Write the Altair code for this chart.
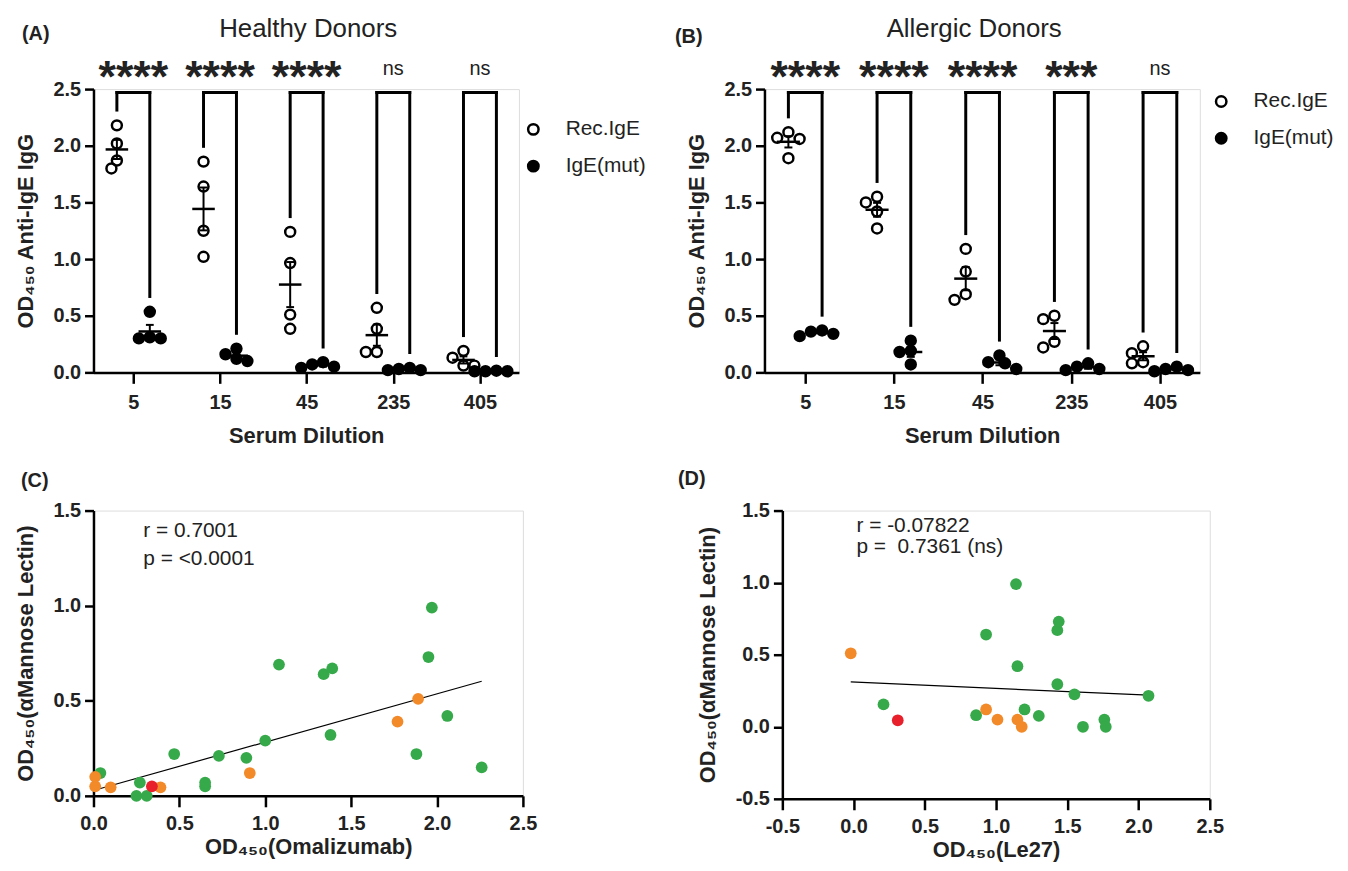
import json
import altair as alt
import pandas as pd

# ---------------- data ----------------
dilutions = ["5", "15", "45", "235", "405"]
series_names = ["Rec.IgE", "IgE(mut)"]

healthy_rec = [[2.18, 2.02, 1.87, 1.80], [1.86, 1.64, 1.25, 1.02], [1.24, 0.965, 0.51, 0.385],
               [0.57, 0.385, 0.18, 0.18], [0.19, 0.13, 0.06, 0.06]]
healthy_mut = [[0.535, 0.31, 0.30, 0.30], [0.21, 0.16, 0.12, 0.10], [0.09, 0.07, 0.05, 0.04],
               [0.04, 0.03, 0.02, 0.02], [0.015, 0.01, 0.01, 0.01]]
healthy_sig = ["****", "****", "****", "ns", "ns"]

allergic_rec = [[2.12, 2.07, 2.06, 1.89], [1.55, 1.50, 1.42, 1.27], [1.09, 0.89, 0.69, 0.64],
                [0.50, 0.47, 0.27, 0.22], [0.23, 0.17, 0.09, 0.08]]
allergic_mut = [[0.37, 0.36, 0.34, 0.32], [0.28, 0.19, 0.18, 0.07], [0.15, 0.09, 0.08, 0.03],
                [0.08, 0.05, 0.03, 0.02], [0.05, 0.03, 0.02, 0.01]]
allergic_sig = ["****", "****", "****", "***", "ns"]

groups = ["Group 1", "Group 2", "Group 3"]
group_colors = ["#36a94a", "#f28a2a", "#e8202b"]

c_green_x = [0.04, 0.25, 0.27, 0.31, 0.47, 0.65, 0.65, 0.73, 0.89, 1.00, 1.08, 1.34, 1.39, 1.38, 1.88, 1.95, 1.97, 2.06, 2.26]
c_green_y = [0.12, 0.00, 0.07, 0.00, 0.22, 0.05, 0.07, 0.21, 0.20, 0.29, 0.69, 0.64, 0.67, 0.32, 0.22, 0.73, 0.99, 0.42, 0.15]
c_orange_x = [0.01, 0.01, 0.10, 0.39, 0.91, 1.77, 1.89]
c_orange_y = [0.10, 0.05, 0.045, 0.045, 0.12, 0.39, 0.51]
c_red_x = [0.34]
c_red_y = [0.05]

d_green_x = [0.21, 0.86, 0.93, 1.14, 1.15, 1.20, 1.30, 1.43, 1.44, 1.43, 1.55, 1.61, 1.76, 1.77, 2.07]
d_green_y = [0.155, 0.08, 0.64, 0.99, 0.42, 0.12, 0.075, 0.67, 0.73, 0.295, 0.225, 0.00, 0.05, 0.00, 0.215]
d_orange_x = [-0.02, 0.93, 1.01, 1.15, 1.18]
d_orange_y = [0.51, 0.12, 0.05, 0.05, 0.00]
d_red_x = [0.31]
d_red_y = [0.045]

c_stats = ["r = 0.7001", "p = <0.0001"]
d_stats = ["r = -0.07822", "p =\u00a0 0.7361 (ns)"]

FONT = "Liberation Sans"
INK = "#222222"

# ---------------- helpers ----------------
TOP_W, TOP_H = 428, 285
X_DOM = [-0.46, 4.45]
Y_DOM = [0, 2.5]
PPX = TOP_W / (X_DOM[1] - X_DOM[0])
PPY = TOP_H / (Y_DOM[1] - Y_DOM[0])
GROUP_SHIFT = 0.19


def swarm(values, d=11.0):
    """simple beeswarm: horizontal offsets (x units) so that markers do not overlap"""
    order = sorted(range(len(values)), key=lambda k: -values[k])
    placed = []
    offs = [0.0] * len(values)
    cands = [0, -0.5, 0.5, -1, 1, -1.5, 1.5, -2, 2]
    for k in order:
        yp = values[k] * PPY
        for c in cands:
            xp = c * d
            if all(((xp - px) ** 2 + (yp - py) ** 2) ** 0.5 >= 0.85 * d for px, py in placed):
                break
        placed.append((xp, yp))
        offs[k] = xp / PPX
    return offs


def axis(title, orient, values=None, label_expr=None, fmt=None, title_pad=14, label_pad=None):
    kw = dict(title=title, grid=False, domainColor="black", domainWidth=2.5,
              tickColor="black", tickWidth=2.5,
              labelFont=FONT, labelFontWeight="bold", labelFontSize=20, labelColor=INK,
              labelFlush=False, labelOverlap=False,
              titleFont=FONT, titleFontWeight="bold", titleFontSize=22, titleColor=INK,
              titlePadding=title_pad)
    if orient == "x":
        kw.update(tickSize=11, labelPadding=9 if label_pad is None else label_pad)
    else:
        kw.update(tickSize=9, labelPadding=4)
    if values is not None:
        kw["values"] = values
    if label_expr is not None:
        kw["labelExpr"] = label_expr
    if fmt is not None:
        kw["format"] = fmt
    return alt.Axis(**kw)


def note(txt, dx, dy, size=20, weight="bold", align="left"):
    return alt.Chart(pd.DataFrame({"t": [txt]})).mark_text(
        font=FONT, fontWeight=weight, fontSize=size, color=INK, align=align, baseline="middle"
    ).encode(text="t:N", x=alt.value(dx), y=alt.value(dy))


def dilution_panel(rec, mut, sig, title, title_dx, letter_txt, letter_pos, legend_pos, width):
    rows = []
    for i in range(len(dilutions)):
        for s, vals in ((series_names[0], rec[i]), (series_names[1], mut[i])):
            xc = i - GROUP_SHIFT if s == series_names[0] else i + GROUP_SHIFT
            for v, o in zip(vals, swarm(vals)):
                rows.append({"idx": i, "series": s, "value": v, "xc": xc, "xj": xc + o})
    df = pd.DataFrame(rows)

    xax = axis("Serum Dilution", "x", values=list(range(len(dilutions))),
               label_expr=json.dumps(dilutions) + "[datum.value]", title_pad=14)
    yax = axis("OD\u2084\u2085\u2080 Anti-IgE IgG", "y", values=[0, 0.5, 1.0, 1.5, 2.0, 2.5], fmt=".1f",
               title_pad=16)
    xs = alt.Scale(domain=X_DOM, nice=False, zero=False)
    ys = alt.Scale(domain=Y_DOM, nice=False)

    def X(f):
        return alt.X(f, type="quantitative", scale=xs, axis=xax)

    def Y(f):
        return alt.Y(f, type="quantitative", scale=ys, axis=yax)

    base = alt.Chart(df)
    pts = base.mark_point(shape="circle", size=100, strokeWidth=2.5, stroke="black", opacity=1).encode(
        x=X("xj"), y=Y("value"),
        fill=alt.Fill("series:N", scale=alt.Scale(domain=series_names, range=["transparent", "black"]),
                      legend=alt.Legend(orient="none", legendX=legend_pos[0], legendY=legend_pos[1],
                                        title=None, labelFont=FONT, labelFontSize=21, labelColor=INK,
                                        symbolType="circle", symbolSize=110, symbolStrokeWidth=2.5,
                                        symbolStrokeColor="black", rowPadding=15, labelOffset=22)),
    )

    stats = base.transform_aggregate(
        m="mean(value)", se="stderr(value)", groupby=["xc", "series"]
    ).transform_calculate(
        lo="datum.m - datum.se", hi="datum.m + datum.se",
        xa="datum.xc - 0.13", xb="datum.xc + 0.13",
        ca="datum.xc - 0.045", cb="datum.xc + 0.045",
    )
    mean_r = stats.mark_rule(color="black", strokeWidth=2.5).encode(x=X("xa"), x2="xb:Q", y=Y("m"))
    sem_r = stats.mark_rule(color="black", strokeWidth=2).encode(x=X("xc"), y=Y("lo"), y2="hi:Q")
    cap_hi = stats.mark_rule(color="black", strokeWidth=2).encode(x=X("ca"), x2="cb:Q", y=Y("hi"))
    cap_lo = stats.mark_rule(color="black", strokeWidth=2).encode(x=X("ca"), x2="cb:Q", y=Y("lo"))

    # brackets
    top = 2.47
    legs, tops = [], []
    for i in range(len(dilutions)):
        legs.append({"x": i - GROUP_SHIFT, "y": max(rec[i]) + 0.135, "y2": top})
        legs.append({"x": i + GROUP_SHIFT, "y": max(mut[i]) + 0.135, "y2": top})
        tops.append({"x": i - GROUP_SHIFT, "x2": i + GROUP_SHIFT, "y": top})
    leg_r = alt.Chart(pd.DataFrame(legs)).mark_rule(color="black", strokeWidth=3, strokeCap="square").encode(
        x=X("x"), y=Y("y"), y2="y2:Q")
    top_r = alt.Chart(pd.DataFrame(tops)).mark_rule(color="black", strokeWidth=3, strokeCap="square").encode(
        x=X("x"), x2="x2:Q", y=Y("y"))

    sig_df = pd.DataFrame({"x": list(range(len(dilutions))), "y": [2.66] * len(dilutions), "t": sig})
    stars = alt.Chart(sig_df).transform_filter("datum.t != 'ns'").mark_text(
        font=FONT, fontWeight="bold", fontSize=45, color=INK, baseline="middle", dy=7
    ).encode(x=X("x"), y=Y("y"), text="t:N")
    ns = alt.Chart(sig_df).transform_filter("datum.t == 'ns'").mark_text(
        font=FONT, fontSize=20, color=INK, baseline="middle", dy=-2
    ).encode(x=X("x"), y=Y("y"), text="t:N")

    lab = note(letter_txt, letter_pos[0], letter_pos[1])
    ttl = note(title, width / 2 + title_dx, -60, size=26, weight="normal", align="center")

    return alt.layer(leg_r, top_r, mean_r, sem_r, cap_hi, cap_lo, pts, stars, ns, lab, ttl).properties(
        width=width, height=TOP_H)


def scatter_panel(gx, gy, ox, oy, rx, ry, stats_txt, stats_x, xdom, ydom, xtitle, letter_txt,
                  letter_pos, width, height):
    rows = []
    for g, xs_, ys_ in ((groups[0], gx, gy), (groups[1], ox, oy), (groups[2], rx, ry)):
        for a, b in zip(xs_, ys_):
            rows.append({"x": a, "y": b, "g": g})
    df = pd.DataFrame(rows)

    def ticks(lo, hi):
        n = int(round((hi - lo) / 0.5))
        return [round(lo + 0.5 * k, 1) for k in range(n + 1)]

    lexpr = "datum.value < 0 ? '-' + format(-datum.value, '.1f') : format(datum.value, '.1f')"
    xax = axis(xtitle, "x", values=ticks(*xdom), label_expr=lexpr, title_pad=3, label_pad=7)
    yax = axis("OD\u2084\u2085\u2080(\u03b1Mannose Lectin)", "y", values=ticks(*ydom), label_expr=lexpr,
               title_pad=16)
    xs = alt.Scale(domain=xdom, nice=False, zero=False)
    ys = alt.Scale(domain=ydom, nice=False, zero=False)

    def X(f):
        return alt.X(f, type="quantitative", scale=xs, axis=xax)

    def Y(f):
        return alt.Y(f, type="quantitative", scale=ys, axis=yax)

    base = alt.Chart(df)
    pts = base.mark_circle(size=140, opacity=1).encode(
        x=X("x"), y=Y("y"),
        color=alt.Color("g:N", scale=alt.Scale(domain=groups, range=group_colors), legend=None),
    )
    reg = base.transform_regression("x", "y").mark_line(color="black", strokeWidth=1.2).encode(
        x=X("x"), y=Y("y"))
    st = alt.Chart(pd.DataFrame({"t": stats_txt, "x": [stats_x] * 2, "y": [1.39, 1.245]})).mark_text(
        font=FONT, fontSize=21, color=INK, align="left", baseline="middle"
    ).encode(x=X("x"), y=Y("y"), text="t:N")
    lab = note(letter_txt, letter_pos[0], letter_pos[1])
    return alt.layer(reg, pts, st, lab).properties(width=width, height=height)


A = dilution_panel(healthy_rec, healthy_mut, healthy_sig, "Healthy Donors", 2, "(A)", (-72, -55), (432, 30), TOP_W)
B = dilution_panel(allergic_rec, allergic_mut, allergic_sig, "Allergic Donors", -8, "(B)", (-90, -52), (449, 2), 438)
C = scatter_panel(c_green_x, c_green_y, c_orange_x, c_orange_y, c_red_x, c_red_y, c_stats, 0.29,
                  [0, 2.5], [0, 1.5], "OD\u2084\u2085\u2080(Omalizumab)", "(C)", (-73, -30), 432, 287)
D = scatter_panel(d_green_x, d_green_y, d_orange_x, d_orange_y, d_red_x, d_red_y, d_stats, 0.02,
                  [-0.5, 2.5], [-0.5, 1.5], "OD\u2084\u2085\u2080(Le27)", "(D)", (-105, -32), 430, 290)

top_row = alt.hconcat(A, B, spacing=27).resolve_scale(x="independent", y="independent", fill="independent").resolve_legend(fill="independent")
bottom_row = alt.hconcat(C, D, spacing=140).resolve_scale(x="independent", y="independent", color="independent")

chart = alt.vconcat(top_row, bottom_row, spacing=20).configure_view(stroke=None).configure(font=FONT)

chart.save("out.html", embed_options={"renderer": "svg", "actions": False})
